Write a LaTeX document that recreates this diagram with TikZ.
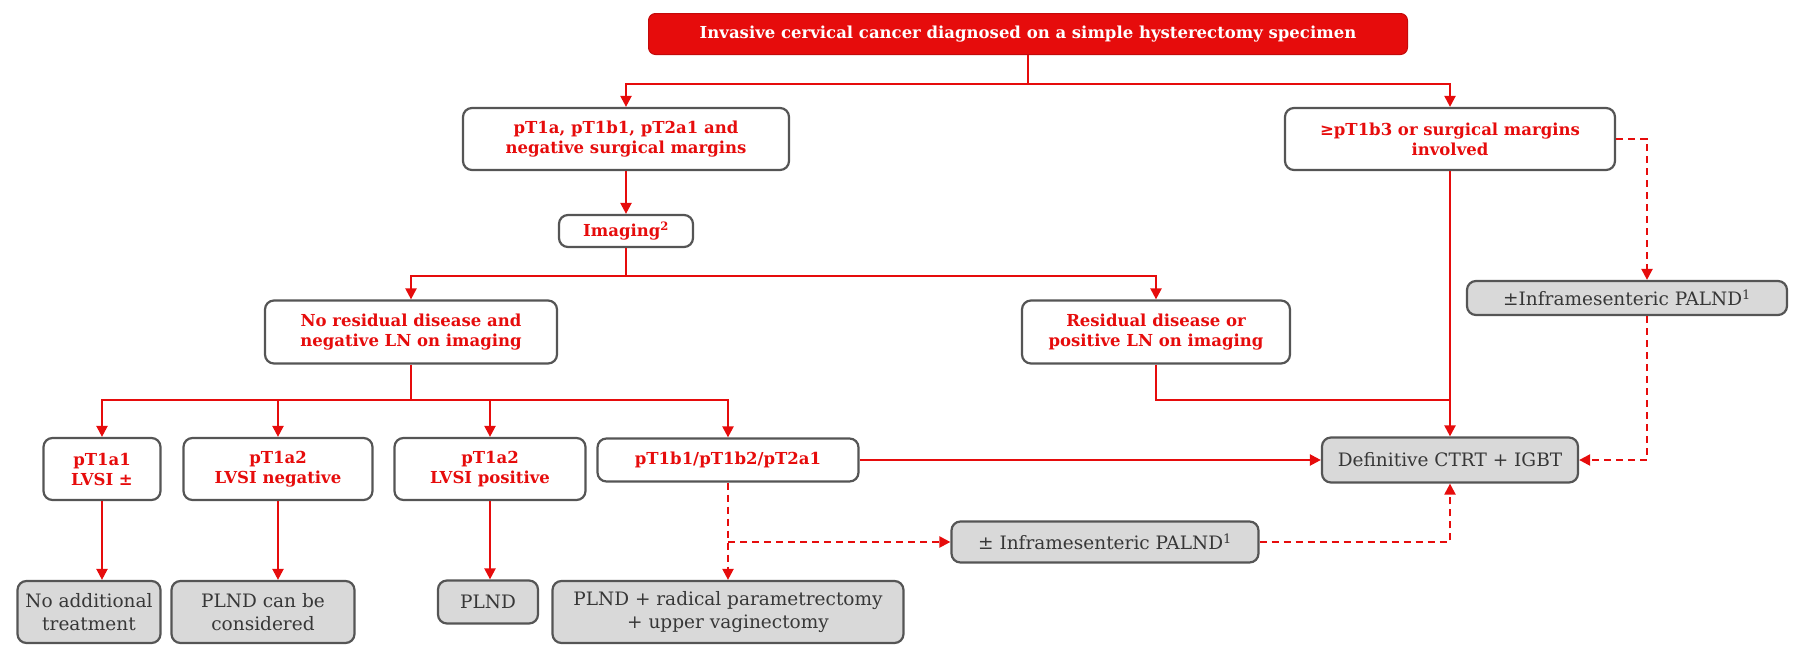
\documentclass[tikz,border=0pt]{standalone}
\usepackage{fontspec}
\setmainfont{DejaVu Serif}
\usetikzlibrary{arrows.meta,calc}

\definecolor{flowred}{RGB}{230,12,12}
\definecolor{boxgray}{RGB}{217,217,217}
\definecolor{edgegray}{RGB}{85,85,85}
\definecolor{textgray}{RGB}{55,55,55}

\tikzset{
  base/.style={draw=edgegray, line width=2.2pt, rounded corners=9pt,
    align=center, inner sep=0pt},
  redbox/.style={base, fill=white, text=flowred,
    font=\fontsize{16.5}{20}\selectfont\bfseries},
  graybox/.style={base, fill=boxgray, text=textgray,
    font=\fontsize{18.5}{23.5}\selectfont},
  topbox/.style={draw=flowred!85!black, line width=1pt, fill=flowred,
    rounded corners=7pt, text=white, inner sep=0pt,
    font=\fontsize{16.5}{20}\selectfont\bfseries},
  conn/.style={draw=flowred, line width=2.2pt,
    -{Triangle[length=11pt,width=11pt]}},
  link/.style={draw=flowred, line width=2.2pt},
  dconn/.style={conn, dash pattern=on 7pt off 5pt},
}

\begin{document}
\begin{tikzpicture}[x=1pt,y=-1pt]
\useasboundingbox (0,0) rectangle (1794,645);

% top level
\node[topbox, minimum width=759, minimum height=41] (top) at (1028,34)
  {Invasive cervical cancer diagnosed on a simple hysterectomy specimen};

% first split
\node[redbox, minimum width=326, minimum height=62] (A) at (626,139)
  {pT1a, pT1b1, pT2a1 and\\negative surgical margins};
\node[redbox, minimum width=330, minimum height=62] (B) at (1450,139)
  {≥pT1b3 or surgical margins\\involved};

% imaging
\node[redbox, minimum width=134, minimum height=32] (img) at (626,231)
  {Imaging\textsuperscript{2}};

% imaging outcomes
\node[redbox, minimum width=292, minimum height=63] (NR) at (411,332)
  {No residual disease and\\negative LN on imaging};
\node[redbox, minimum width=268, minimum height=63] (RD) at (1156,332)
  {Residual disease or\\positive LN on imaging};

% stage boxes
\node[redbox, minimum width=117, minimum height=62] (a1) at (102,469)
  {pT1a1\\LVSI ±};
\node[redbox, minimum width=189, minimum height=62] (a2n) at (278,469)
  {pT1a2\\LVSI negative};
\node[redbox, minimum width=191, minimum height=62] (a2p) at (490,469)
  {pT1a2\\LVSI positive};
\node[redbox, minimum width=261, minimum height=43] (b1) at (728,460)
  {pT1b1/pT1b2/pT2a1};

% treatments
\node[graybox, minimum width=256, minimum height=45] (D) at (1450,460)
  {Definitive CTRT + IGBT};
\node[graybox, minimum width=320, minimum height=34] (pr) at (1627,298)
  {±Inframesenteric PALND\textsuperscript{1}};
\node[graybox, minimum width=307, minimum height=41] (pm) at (1105,542)
  {± Inframesenteric PALND\textsuperscript{1}};

\node[graybox, minimum width=143, minimum height=62] (na) at (89,612)
  {No additional\\treatment};
\node[graybox, minimum width=183, minimum height=62] (pc) at (263,612)
  {PLND can be\\considered};
\node[graybox, minimum width=100, minimum height=43] (pl) at (488,602)
  {PLND};
\node[graybox, minimum width=351, minimum height=62] (rad) at (728,612)
  {PLND + radical parametrectomy\\+ upper vaginectomy};

% helper levels
\coordinate (r3) at (0,400);
\coordinate (dx) at (1647,0);

% connectors
\draw[conn] (top.south) -- ++(0,29) -| (A.north);
\draw[conn] (top.south) -- ++(0,29) -| (B.north);
\draw[conn] (A.south) -- (img.north);
\draw[conn] (img.south) -- ++(0,28) -| (NR.north);
\draw[conn] (img.south) -- ++(0,28) -| (RD.north);

\draw[conn] (NR.south) -- (NR.south |- r3) -| (a1.north);
\draw[conn] (NR.south |- r3) -| (a2n.north);
\draw[conn] (NR.south |- r3) -| (a2p.north);
\draw[conn] (NR.south |- r3) -| (b1.north);

\draw[link] (RD.south) |- (B.south |- r3);
\draw[conn] (B.south) -- (D.north);
\draw[conn] (b1.east) -- (D.west);

\draw[dconn] (B.east) -| (dx |- pr.north);
\draw[dconn] (dx |- pr.south) |- (D.east);

\draw[conn] (a1.south) -- (a1.south |- na.north);
\draw[conn] (a2n.south) -- (a2n.south |- pc.north);
\draw[conn] (a2p.south) -- (a2p.south |- pl.north);

\draw[dconn] (b1.south) -- (rad.north);
\draw[dconn] (b1.south |- pm.west) -- (pm.west);
\draw[dconn] (pm.east) -| (D.south);
\end{tikzpicture}
\end{document}
